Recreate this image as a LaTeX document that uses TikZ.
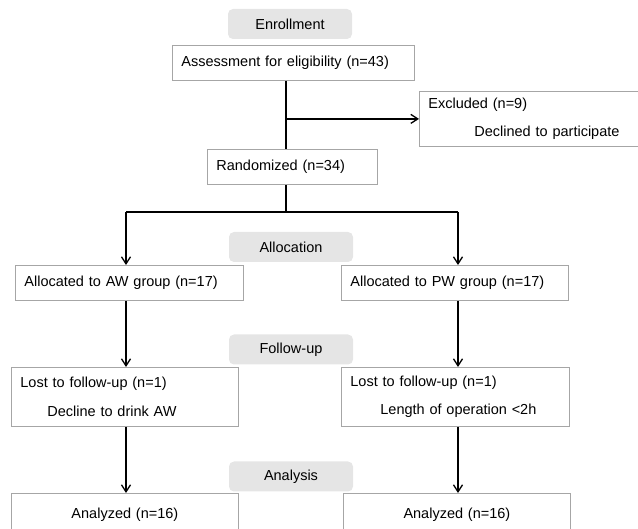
\documentclass[tikz,border=0pt]{standalone}
\usepackage{fontspec}
\setmainfont{Liberation Sans}
\usepackage{xcolor}
\usepackage{tikz}
\usetikzlibrary{arrows.meta}
\tikzset{
  box/.style={draw=gray!70,line width=0.8pt,anchor=north west,minimum height=35pt,inner xsep=9pt,inner ysep=0pt,align=left,font=\fontsize{14.5}{17.5}\selectfont},
  tag/.style={fill=gray!20,rounded corners=5pt,minimum width=124pt,minimum height=30pt,inner sep=0pt,font=\fontsize{14.5}{17.5}\selectfont},
  lk/.style={line width=1.4pt},
  ar/.style={line width=1.4pt,-{Straight Barb[length=7pt,width=9pt,line width=1.3pt]}}
}

\begin{document}
\begin{tikzpicture}[x=1pt,y=-1pt]
\useasboundingbox (0,0) rectangle (638,529);
\clip (0,0) rectangle (638,529);
\node[tag] (enr) at (290,24) {Enrollment};
\node[box,text width=224pt] (assess) at (172,45) {Assessment for eligibility (n=43)};
\node[box,text width=215pt,minimum height=55pt] (excl) at (419,91) {Excluded (n=9)\\[10pt]\hspace*{46pt}Declined to participate};
\node[box,text width=152pt] (rand) at (207,149) {Randomized (n=34)};
\node[tag] (alloc) at (291,247) {Allocation};
\node[box,text width=210pt] (awA) at (15,265) {Allocated to AW group (n=17)};
\node[box,text width=209pt] (pwA) at (341,265) {Allocated to PW group (n=17)};
\node[tag] (fup) at (291,349.5) {Follow-up};
\node[box,text width=209pt,minimum height=59pt] (awL) at (11,367) {Lost to follow-up (n=1)\\[11pt]\hspace*{27pt}Decline to drink AW};
\node[box,text width=210pt,minimum height=59pt] (pwL) at (341,367) {Lost to follow-up (n=1)\\[11pt]\hspace*{30pt}Length of operation <2h};
\node[tag] (ana) at (291,476.5) {Analysis};
\node[box,text width=209pt,minimum height=42pt,align=center] (awN) at (11,493) {Analyzed (n=16)};
\node[box,text width=209pt,minimum height=42pt,align=center] (pwN) at (343,493) {Analyzed (n=16)};
% trunk and branches
\coordinate (trunk) at (286,0);
\coordinate (split) at (286,212);
\coordinate (colA) at (126,0);
\coordinate (colB) at (458,0);
\draw[lk] (assess.south -| trunk) -- (rand.north -| trunk);
\draw[ar] (trunk |- excl.west) -- (excl.west);
\draw[lk] (rand.south -| trunk) -- (split);
\draw[lk] (split -| colA) -- (split -| colB);
\draw[ar] (split -| colA) -- (colA |- awA.north);
\draw[ar] (split -| colB) -- (colB |- pwA.north);
\draw[ar] (colA |- awA.south) -- (colA |- awL.north);
\draw[ar] (colB |- pwA.south) -- (colB |- pwL.north);
\draw[ar] (colA |- awL.south) -- (colA |- awN.north);
\draw[ar] (colB |- pwL.south) -- (colB |- pwN.north);
\end{tikzpicture}
\end{document}
